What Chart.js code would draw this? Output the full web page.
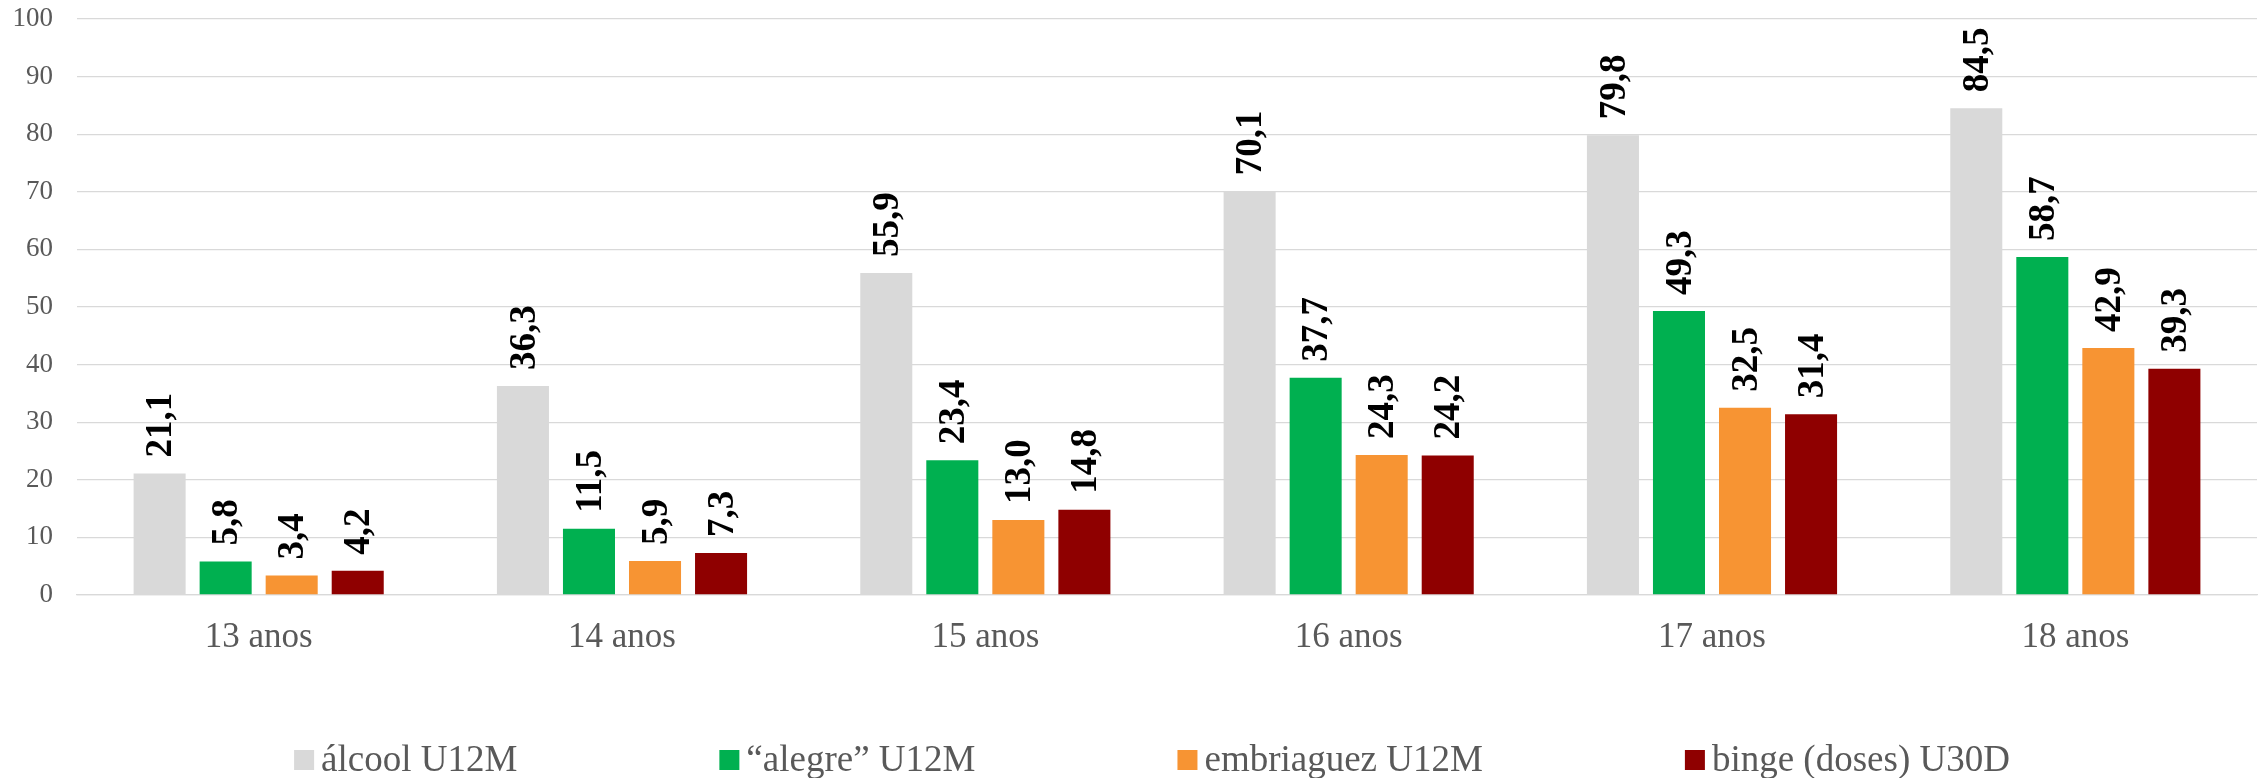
<!DOCTYPE html>
<html>
<head>
<meta charset="utf-8">
<script src="https://cdn.jsdelivr.net/npm/chart.js@4.4.1/dist/chart.umd.min.js"></script>
<style>
  html, body { margin: 0; padding: 0; background: #fff; }
  #wrap { width: 2264px; height: 778px; }
</style>
</head>
<body>
<div id="wrap"><canvas id="ageChart" width="2264" height="778"></canvas></div>
<script>
const ages = ['13 anos', '14 anos', '15 anos', '16 anos', '17 anos', '18 anos'];
const alcool = [21.1, 36.3, 55.9, 70.1, 79.8, 84.5];
const alegre = [5.8, 11.5, 23.4, 37.7, 49.3, 58.7];
const embriaguez = [3.4, 5.9, 13.0, 24.3, 32.5, 42.9];
const binge = [4.2, 7.3, 14.8, 24.2, 31.4, 39.3];
const seriesNames = ['álcool U12M', '“alegre” U12M', 'embriaguez U12M', 'binge (doses) U30D'];

const serif = '"Liberation Serif", "Times New Roman", serif';

function fmt(v) {
    return v.toFixed(1).replace('.', ',');
}

// value labels, rotated, above each bar
const barLabels = {
    id: 'barLabels',
    afterDatasetsDraw(chart) {
        const ctx = chart.ctx;
        ctx.save();
        ctx.font = 'bold 37px ' + serif;
        ctx.fillStyle = '#000';
        ctx.textAlign = 'left';
        ctx.textBaseline = 'middle';
        chart.data.datasets.forEach(function (ds, i) {
            chart.getDatasetMeta(i).data.forEach(function (bar, j) {
                ctx.save();
                ctx.translate(bar.x + 2, bar.y - 16);
                ctx.rotate(-Math.PI / 2);
                ctx.fillText(fmt(ds.data[j]), 0, 0);
                ctx.restore();
            });
        });
        ctx.restore();
    }
};

// legend row at the bottom
const bottomLegend = {
    id: 'bottomLegend',
    afterDraw(chart) {
        const ctx = chart.ctx;
        const box = 20, textGap = 7, itemGap = 202, centerX = 1152, y = 760;
        ctx.save();
        ctx.font = '37px ' + serif;
        ctx.textBaseline = 'middle';
        const widths = chart.data.datasets.map(ds => ctx.measureText(ds.label).width);
        let total = 0;
        widths.forEach(w => total += box + textGap + w);
        total += itemGap * (widths.length - 1);
        let x = centerX - total / 2;
        chart.data.datasets.forEach(function (ds, i) {
            ctx.fillStyle = ds.backgroundColor;
            ctx.fillRect(x, y - box / 2, box, box);
            ctx.fillStyle = '#595959';
            ctx.fillText(ds.label, x + box + textGap, y + 1);
            x += box + textGap + widths[i] + itemGap;
        });
        ctx.restore();
    }
};

const ctx = document.getElementById('ageChart').getContext('2d');
new Chart(ctx, {
    type: 'bar',
    data: {
        labels: ages,
        datasets: [
            { label: seriesNames[0], data: alcool, backgroundColor: '#d9d9d9' },
            { label: seriesNames[1], data: alegre, backgroundColor: '#00b050' },
            { label: seriesNames[2], data: embriaguez, backgroundColor: '#f79433' },
            { label: seriesNames[3], data: binge, backgroundColor: '#8f0000' }
        ]
    },
    options: {
        responsive: false,
        animation: false,
        devicePixelRatio: 1,
        layout: { padding: { left: 12, right: 7, top: 19, bottom: 119 } },
        datasets: {
            bar: { categoryPercentage: 0.727, barPercentage: 0.788, borderWidth: 0 }
        },
        plugins: {
            legend: { display: false },
            tooltip: { enabled: false }
        },
        scales: {
            x: {
                grid: { display: false, drawTicks: false },
                border: { display: true, color: '#d9d9d9', width: 1.3 },
                ticks: { color: '#595959', font: { family: serif, size: 35 }, padding: 22 },
                afterFit(scale) {
                    scale.height = 64;
                    scale.paddingLeft = 0;
                    scale.paddingRight = 0;
                }
            },
            y: {
                min: 0,
                max: 100,
                grid: { color: '#d9d9d9', lineWidth: 1.3, drawTicks: false },
                border: { display: false },
                ticks: { stepSize: 10, color: '#595959', font: { family: serif, size: 27 }, padding: 24 },
                afterFit(scale) {
                    scale.width = 65;
                    scale.paddingTop = 0;
                    scale.paddingBottom = 0;
                }
            }
        }
    },
    plugins: [barLabels, bottomLegend]
});
</script>
</body>
</html>
